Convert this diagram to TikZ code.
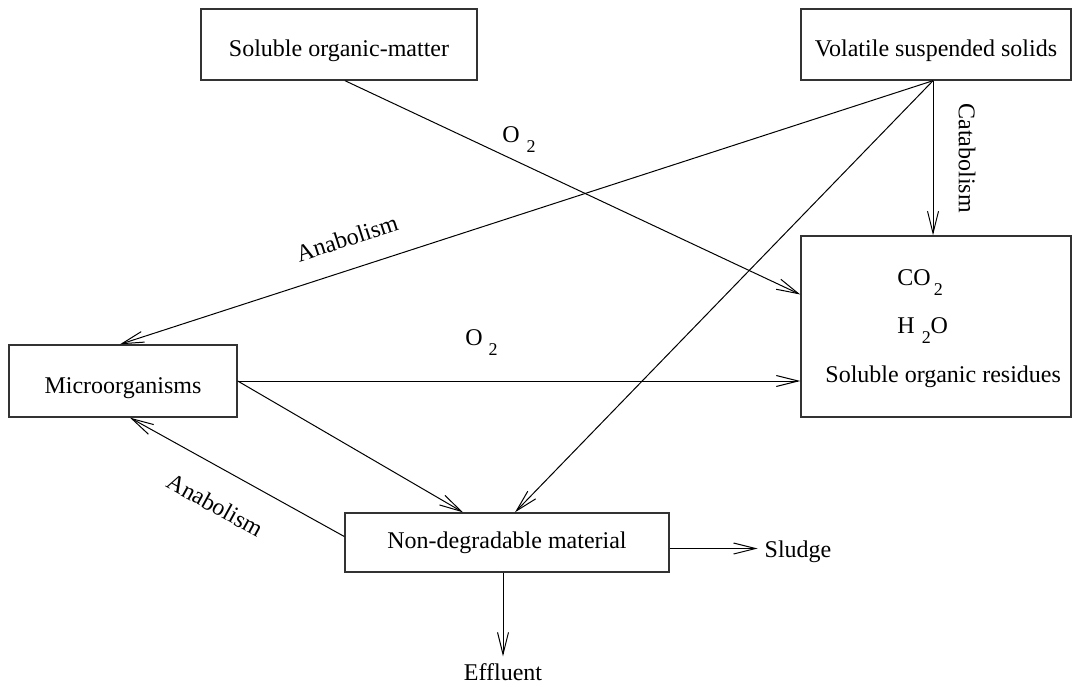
\documentclass[tikz,border=0pt]{standalone}
\usepackage{fontspec}
\setmainfont{Liberation Serif}
\usepackage{tikz}
\usetikzlibrary{
    arrows.meta,
}

\newcommand{\lowsub}[1]{\raisebox{-0.45em}{\fontsize{9}{9}\selectfont #1}}

\begin{document}
\begin{tikzpicture}[
    x=0.5pt,y=-0.5pt,
    every node/.style={font=\fontsize{12}{14}\selectfont},
    box/.style={draw=black!80,line width=0.7pt,inner sep=0pt},
    lowtext/.style={text height=12pt,text depth=0pt},
    arr/.style={-{Straight Barb[length=11pt,width=5.5pt]},line width=0.5pt},
    txt/.style={inner sep=0pt,anchor=base west},
]
    \useasboundingbox (0,0) rectangle (1074,686);
    % \draw[help lines,step=50] (0,0) grid (1074,686);

    % Boxes
    \node[box,lowtext,minimum width=138pt,minimum height=35.5pt] (som) at (339,44.5) {Soluble organic-matter};
    \node[box,lowtext,minimum width=135pt,minimum height=35.5pt] (vss) at (936,44.5) {Volatile suspended solids};
    \node[box,minimum width=135pt,minimum height=90.5pt] (res) at (936,326.5) {};
    \node[box,lowtext,minimum width=114pt,minimum height=36pt] (mic) at (123,381) {Microorganisms};
    \node[box,minimum width=162pt,minimum height=29.5pt] (ndm) at (507,542.5) {Non-degradable material};

    % Products
    \node[txt] (co2) at (897,285) {CO\hspace{1.5pt}\lowsub{2}};
    \node[txt] (h2o) at (897,333) {H\hspace{3.5pt}\lowsub{2}O};
    \node[txt] (sor) at (825,382) {Soluble organic residues};

    % Outlets
    \node[] (sludge) at (798,552) {Sludge};
    \node[] (effl) at (503,672) {Effluent};

    % Arrows
    \coordinate (vsout) at ([xshift=-1.5pt]vss.south);
    \draw[arr] ([xshift=3pt]som.south) -- ([yshift=16pt]res.west);
    \draw[arr] (mic.east) -- (mic.east -| res.west);
    \draw[arr] (vsout) -- ([xshift=-1.5pt]mic.north);
    \draw[arr] (vsout) -- (vsout |- res.north);
    \draw[arr] (vsout) -- ([xshift=4pt]ndm.north);
    \draw[arr] (mic.east) -- ([xshift=-22pt]ndm.north);
    \draw[arr] ([yshift=3pt]ndm.west) -- ([xshift=3.5pt]mic.south);
    \draw[arr] ([yshift=-3pt]ndm.east) -- ([yshift=-3pt]ndm.east -| sludge.west);
    \draw[arr] (ndm.south -| effl.north) -- (effl.north);

    % Labels
    \node[txt] (o2a) at (502,142) {O\hspace{3.5pt}\lowsub{2}};
    \node[txt] (o2b) at (465,345) {O\hspace{3pt}\lowsub{2}};
    \node[rotate=18] (anab1) at (347,238) {Anabolism};
    \node[rotate=-29] (anab2) at (215,505) {Anabolism};
    \node[rotate=-90] (catab) at (967,158) {Catabolism};

\end{tikzpicture}
\end{document}
